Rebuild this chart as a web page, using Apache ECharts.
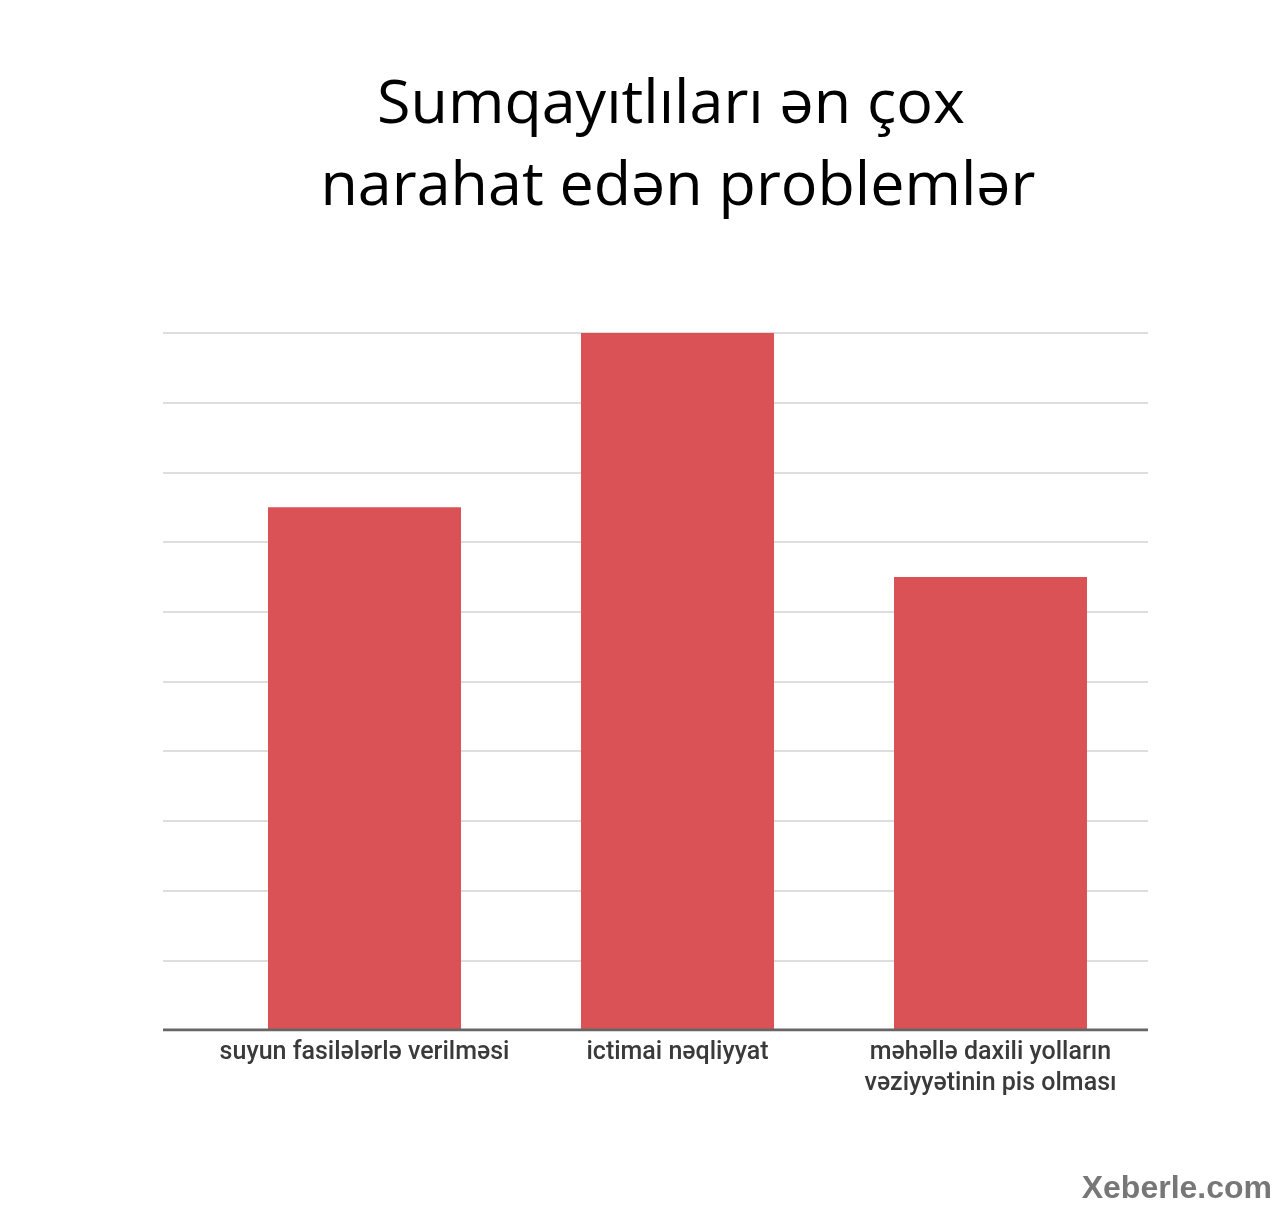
<!DOCTYPE html>
<html>
<head>
<meta charset="utf-8">
<script src="https://cdn.jsdelivr.net/npm/echarts@6/dist/echarts.min.js"></script>
<style>html,body{margin:0;padding:0;background:#fff}#c{width:1280px;height:1208px}</style>
</head>
<body>
<div id="c"></div>
<script>
const titleLines = ["Sumqayıtlıları ən çox", "narahat edən problemlər"];
const categories = ["suyun fasilələrlə verilməsi", "ictimai nəqliyyat", "məhəllə daxili yolların\nvəziyyətinin pis olması"];
const values = [7.5, 10, 6.5];
const yMin = 0, yMax = 10, yInterval = 1;
const watermark = "Xeberle.com";

const chart = echarts.init(document.getElementById('c'), null, {renderer: 'canvas'});
chart.setOption({
  backgroundColor: '#ffffff',
  animation: false,
  title: [
    {text: titleLines[0], left: 666, top: 70, textAlign: 'center',
     textStyle: {fontFamily: 'Open Sans', fontSize: 61, fontWeight: 'normal', color: '#000'}},
    {text: titleLines[1], left: 673, top: 152, textAlign: 'center',
     textStyle: {fontFamily: 'Open Sans', fontSize: 61, fontWeight: 'normal', color: '#000'}}
  ],
  grid: [
    {left: 163, right: 132, top: 333, bottom: 178},
    {left: 208, right: 133, top: 333, bottom: 178}
  ],
  xAxis: [
    {gridIndex: 0, type: 'value', min: 0, max: 1, show: true,
     axisLine: {show: false}, axisTick: {show: false}, axisLabel: {show: false}, splitLine: {show: false}},
    {gridIndex: 1, type: 'category', data: categories,
     axisLine: {show: false}, axisTick: {show: false},
     axisLabel: {interval: 0, margin: 7, fontFamily: 'Roboto', fontSize: 25, fontWeight: 500, color: '#3a3a3a', lineHeight: 31}}
  ],
  yAxis: [
    {gridIndex: 0, type: 'value', min: yMin, max: yMax, interval: yInterval,
     axisLabel: {show: false}, axisTick: {show: false}, axisLine: {show: false},
     splitLine: {show: true, lineStyle: {color: '#dedede', width: 2}}},
    {gridIndex: 1, type: 'value', min: yMin, max: yMax, interval: yInterval, show: false}
  ],
  series: [
    {type: 'bar', xAxisIndex: 1, yAxisIndex: 1, data: values, barWidth: 193,
     itemStyle: {color: '#da5256'}},
    {type: 'line', xAxisIndex: 0, yAxisIndex: 0, data: [[0, 0], [1, 0]], symbol: 'none', silent: true,
     lineStyle: {color: '#666', width: 3}, z: 5}
  ],
  graphic: [
    {type: 'text', right: 8, top: 1173,
     style: {text: watermark, fontFamily: 'Liberation Sans', fontWeight: 'bold', fontSize: 32, fill: '#777777'}}
  ]
});
</script>
</body>
</html>
